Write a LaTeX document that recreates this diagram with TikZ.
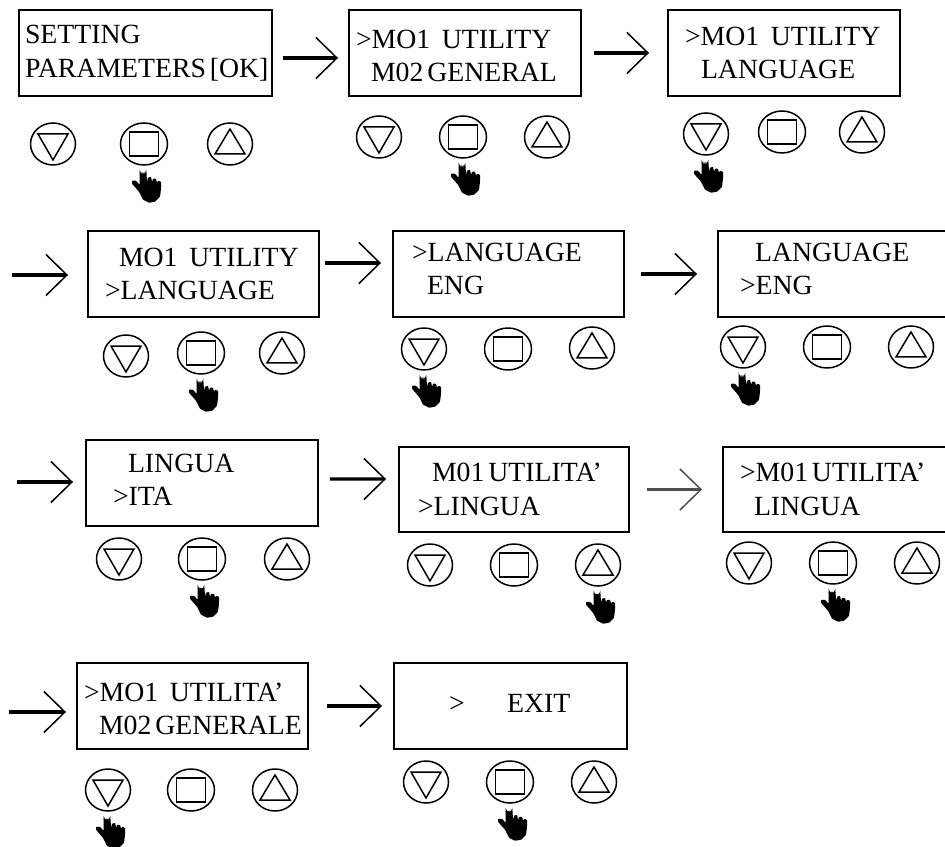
\documentclass[tikz,border=0pt]{standalone}
\usepackage{fontspec}
\setmainfont{Liberation Serif}
\usetikzlibrary{arrows.meta, positioning, calc, shapes.geometric}
\newcommand{\lcdline}[2]{\hspace*{#1\dimexpr0.02cm\relax}\nobreak\mbox{\spaceskip=2.2pt\relax #2}}
\tikzset{
    hand/.pic={
        \begin{scope}[shift={(-1,3)}]
            \fill[rounded corners=0.4pt] (-3.5,4) -- (3.5,4) -- (4,13) -- (5,9) -- (8,8) -- (9,13) -- (10,10) -- (13,10) -- (14,14) -- (15,12) -- (18,13)
                -- (18,20) -- (17,28) -- (12,33) -- (6,34) -- (0,31) -- (-4,23) -- (-11,15) -- (-11,12) -- (-7,12) -- (-3.5,16) -- cycle;
            \draw[line width=0.5pt, fill=white] (-3,5) -- (-3,3) arc (180:0:3) -- (3,5);
        \end{scope}
    }
}
\begin{document}
\begin{tikzpicture}[x=0.02cm, y=-0.02cm,
    lcd/.style={draw, line width=0.04cm, inner sep=0pt, align=left, minimum height=1.72cm, font=\fontsize{15.8}{19}\selectfont},
    nav/.style={-{Straight Barb[length=0.42cm, width=0.82cm, line width=0.03cm]}, line width=0.065cm},
    btn/.style={ellipse, draw, line width=0.03cm, minimum width=0.9cm, minimum height=0.84cm, inner sep=0pt},
    downbtn/.style={btn, path picture={\draw[line width=0.03cm] ($(path picture bounding box.center)+(-0.3cm,0.2cm)$) -- ++(0.6cm,0) -- ++(-0.3cm,-0.52cm) -- cycle;}},
    upbtn/.style={btn, path picture={\draw[line width=0.03cm] ($(path picture bounding box.center)+(-0.3cm,-0.2cm)$) -- ++(0.6cm,0) -- ++(-0.3cm,0.5cm) -- cycle;}},
    okbtn/.style={btn, minimum width=0.94cm, path picture={\draw[line width=0.03cm] ($(path picture bounding box.center)+(-0.29cm,-0.24cm)$) rectangle ++(0.58cm,0.48cm);}}
]
    \useasboundingbox (0,0) rectangle (945,847);

    % First row
    \node[lcd, minimum width=5.06cm, text width=5.06cm] (set) at (145.5,53) {\lcdline{6}{SETTING}\\\lcdline{6}{PARAMETERS [OK]}};
    \node[lcd, minimum width=4.64cm, text width=4.64cm, text depth=15.6pt] (util) at (465,53) {\lcdline{7}{>MO1\hspace{0.42em}UTILITY}\\\lcdline{22}{M02 GENERAL}};
    \node[lcd, minimum width=4.64cm, text width=4.64cm] (lang) at (784,53) {\lcdline{17}{>MO1\hspace{0.42em}UTILITY}\\\lcdline{33}{LANGUAGE}};
    \node[downbtn] (d1) at (53,144) {};
    \node[okbtn] (o1) at (144,144) {};
    \node[upbtn] (u1) at (230,144) {};
    \node[downbtn] (d2) at (379,137) {};
    \node[okbtn] (o2) at (463,137) {};
    \node[upbtn] (u2) at (547,137) {};
    \node[downbtn] (d3) at (706,134) {};
    \node[okbtn] (o3) at (782,132) {};
    \node[upbtn] (u3) at (862,132) {};
    \pic at (o1.south) {hand};
    \pic at (o2.south) {hand};
    \pic at (d3.south) {hand};
    \draw[nav, shorten <=0.2cm, shorten >=0.2cm] ([yshift=-0.1cm]set.east) -- ([yshift=-0.1cm]util.west);
    \draw[nav, shorten <=0.24cm, shorten >=0.36cm] (util.east) -- (lang.west);

    % Second row
    \coordinate (start2) at (12,275);
    \node[lcd, minimum width=4.62cm, text width=4.62cm] (utilsel) at (203.5,274) {\lcdline{31}{MO1\hspace{0.42em}UTILITY}\\\lcdline{17}{>LANGUAGE}};
    \node[lcd, minimum width=4.62cm, text width=4.62cm, text depth=24.6pt] (langsel) at (508.5,274) {\lcdline{19}{>LANGUAGE}\\\lcdline{34}{ENG}};
    \node[lcd, minimum width=4.64cm, text width=4.64cm, text depth=24.6pt] (engsel) at (834,274) {\lcdline{37}{LANGUAGE}\\\lcdline{22}{>ENG}};
    \node[downbtn] (d4) at (126,356) {};
    \node[okbtn] (o4) at (201,353) {};
    \node[upbtn] (u4) at (282,353) {};
    \node[downbtn] (d5) at (424,349) {};
    \node[okbtn] (o5) at (508,349) {};
    \node[upbtn] (u5) at (592,348) {};
    \node[downbtn] (d6) at (743,347) {};
    \node[okbtn] (o6) at (827,347) {};
    \node[upbtn] (u6) at (911,347) {};
    \pic at (o4.south) {hand};
    \pic at (d5.south) {hand};
    \pic at (d6.south) {hand};
    \draw[nav, shorten >=0.38cm] (start2) -- (start2 -| utilsel.west);
    \draw[nav, shorten <=0.1cm, shorten >=0.22cm] ([yshift=0.22cm]utilsel.east) -- ([yshift=0.22cm]langsel.west);
    \draw[nav, shorten <=0.32cm, shorten >=0.4cm] (langsel.east) -- (engsel.west);

    % Third row
    \coordinate (start3) at (17,482);
    \node[lcd, minimum width=4.64cm, text width=4.64cm, text depth=22.4pt] (lingsel) at (202,483) {\lcdline{42}{LINGUA}\\\lcdline{27}{>ITA}};
    \node[lcd, minimum width=4.6cm, text width=4.6cm] (utilita) at (514,489.5) {\lcdline{33}{M01 UTILITA'}\\\lcdline{19}{>LINGUA}};
    \node[lcd, minimum width=4.64cm, text width=4.64cm] (lingua) at (839,489.5) {\lcdline{17}{>M01 UTILITA'}\\\lcdline{31}{LINGUA}};
    \node[downbtn] (d7) at (119,559) {};
    \node[okbtn] (o7) at (202,559) {};
    \node[upbtn] (u7) at (287,559) {};
    \node[downbtn] (d8) at (430,565) {};
    \node[okbtn] (o8) at (514,565) {};
    \node[upbtn] (u8) at (598,565) {};
    \node[downbtn] (d9) at (749,563) {};
    \node[okbtn] (o9) at (833,563) {};
    \node[upbtn] (u9) at (917,563) {};
    \pic at (o7.south) {hand};
    \pic at (u8.south) {hand};
    \pic at (o9.south) {hand};
    \draw[nav, shorten >=0.24cm] (start3) -- (start3 -| lingsel.west);
    \draw[nav, shorten <=0.22cm, shorten >=0.24cm] ([yshift=0.08cm]lingsel.east) -- ([yshift=0.21cm]utilita.west);
    \draw[nav, black!70, shorten <=0.34cm, shorten >=0.4cm] (utilita.east) -- (lingua.west);

    % Last row
    \coordinate (start4) at (9,712);
    \node[lcd, minimum width=4.62cm, text width=4.62cm, text depth=15.6pt] (generale) at (192.5,706) {\lcdline{7}{>MO1\hspace{0.42em}UTILITA'}\\\lcdline{22}{M02 GENERALE}};
    \node[lcd, minimum width=4.66cm, text width=4.66cm, text depth=3.4pt] (exit) at (510.5,706) {\lcdline{55}{>\hspace{0.85cm}EXIT}};
    \node[downbtn] (d10) at (108,790) {};
    \node[okbtn] (o10) at (191,790) {};
    \node[upbtn] (u10) at (275,790) {};
    \node[downbtn] (d11) at (426,782) {};
    \node[okbtn] (o11) at (510,782) {};
    \node[upbtn] (u11) at (594,782) {};
    \pic at (d10.south) {hand};
    \pic at (o11.south) {hand};
    \draw[nav, shorten >=0.2cm] (start4) -- (start4 -| generale.west);
    \draw[nav, shorten <=0.36cm, shorten >=0.22cm] (generale.east) -- (exit.west);
\end{tikzpicture}
\end{document}
